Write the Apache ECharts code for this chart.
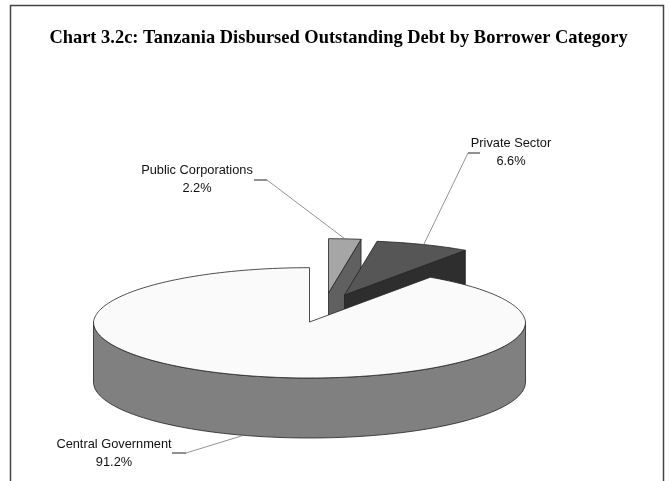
<!DOCTYPE html>
<html>
<head>
<meta charset="utf-8">
<style>html,body{margin:0;padding:0;background:#fff}#c{width:669px;height:481px}</style>
<script src="https://cdn.jsdelivr.net/npm/echarts@6/dist/echarts.min.js"></script>
</head>
<body>
<div id="c"></div>
<script>
// Data (in drawing order, clockwise from 12 o'clock)
const categories = ['Public Corporations', 'Private Sector', 'Central Government'];
const shares = [2.2, 6.6, 91.2];
const titleText = 'Chart 3.2c: Tanzania Disbursed Outstanding Debt by Borrower Category';

// Styling and layout, separate from the data
const topColors = ['#a6a6a6', '#565656', '#fafafa'];
const sideColors = ['#606060', '#2e2e2e', '#808080'];
const pieCenter = [309.5, 322];
const rx = 216, ry = 56, depth = 60;
const explode = [[19, -29], [35, -27], [0, 0]];
const skew = 3.7;
const backShrink = 0.03;
const labelAt = [[197, 179.5], [511, 152], [114, 453]];
const elbowAt = [[[254, 180], [267, 180]], [[480, 153], [468, 153]], [[172, 453], [186, 453]]];
const leaderOnBase = [false, false, true];

const rad = d => d * Math.PI / 180;
const warp = a => a + skew * Math.sin(rad(2 * a));
function rim(c, a, dy) {
  const w = rad(warp(a));
  const k = 1 - backShrink * Math.max(0, Math.cos(w));
  return [c[0] + k * rx * Math.sin(w), c[1] - k * ry * Math.cos(w) + (dy || 0)];
}
function arc(c, a0, a1, dy) {
  const pts = [];
  const n = Math.max(2, Math.ceil((a1 - a0) / 1.5));
  for (let i = 0; i <= n; i++) pts.push(rim(c, a0 + (a1 - a0) * i / n, dy));
  return pts;
}
function renderItem(params, api) {
  const i = params.dataIndex;
  const before = shares.slice(0, i).reduce((s, v) => s + v, 0);
  const a0 = before * 3.6;
  const a1 = (before + api.value(0)) * 3.6;
  const mid = (a0 + a1) / 2;
  const c = [pieCenter[0] + explode[i][0], pieCenter[1] + explode[i][1]];
  const children = [];
  const edge = { stroke: '#222', lineWidth: 0.8, lineJoin: 'round' };
  const poly = (points, fill, st) => children.push({
    type: 'polygon', shape: { points }, style: Object.assign({ fill }, edge, st || {})
  });
  // visible side wall
  if (a1 >= 360) {
    const topFront = arc(c, 90, 270);
    const baseFront = arc(c, 90, 270, depth).reverse();
    poly(topFront.concat(baseFront), sideColors[i]);
  } else {
    const outer = rim(c, a1);
    poly([c, outer, [outer[0], outer[1] + depth], [c[0], c[1] + depth]], sideColors[i]);
  }
  // top face
  poly([c].concat(arc(c, a0, a1)), topColors[i]);
  // leader line
  const end = rim(c, mid, leaderOnBase[i] ? depth : 0);
  children.push({
    type: 'polyline', shape: { points: [elbowAt[i][1], end] },
    style: { fill: null, stroke: '#777', lineWidth: 0.8 }
  });
  children.push({
    type: 'polyline', shape: { points: elbowAt[i] },
    style: { fill: null, stroke: '#222', lineWidth: 1 }
  });
  // label
  children.push({
    type: 'text',
    style: {
      x: labelAt[i][0], y: labelAt[i][1],
      text: api.value(1) + '\n' + api.value(0).toFixed(1) + '%',
      align: 'center', verticalAlign: 'middle', lineHeight: 18,
      font: '12.8px "Liberation Sans", Arial, sans-serif', fill: '#111'
    },
    z2: 10
  });
  return { type: 'group', children };
}
const chart = echarts.init(document.getElementById('c'), null, { renderer: 'canvas' });
chart.setOption({
  animation: false,
  backgroundColor: '#fff',
  title: {
    text: titleText, left: 333.5, top: 24, textAlign: 'center',
    textStyle: { fontFamily: '"Liberation Serif", serif', fontWeight: 'bold', fontSize: 18.45, color: '#000' }
  },
  graphic: [{
    type: 'rect', silent: true, z: -1,
    shape: { x: 10.5, y: 5.5, width: 653, height: 490 },
    style: { fill: '#fff', stroke: '#444', lineWidth: 1.5 }
  }],
  series: [{
    type: 'custom',
    coordinateSystem: 'none',
    silent: true,
    renderItem,
    data: categories.map((c, i) => [shares[i], c])
  }]
});
</script>
</body>
</html>
